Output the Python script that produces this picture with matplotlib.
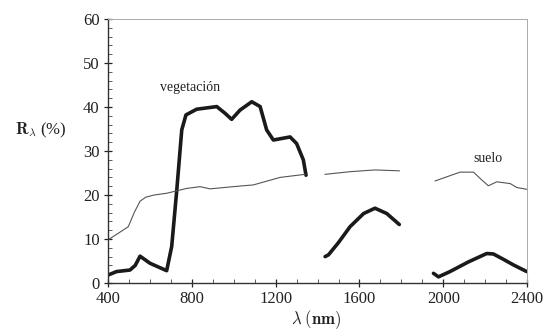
import matplotlib
matplotlib.use("Agg")
import matplotlib.pyplot as plt
from matplotlib.ticker import MultipleLocator

plt.rcParams['font.family'] = ['Liberation Serif', 'DejaVu Serif']
plt.rcParams['mathtext.fontset'] = 'cm'

# vegetation reflectance (three segments, gaps at water absorption bands)
veg_wl_1 = [400, 441, 505, 530, 553, 600, 680, 704, 728, 752, 772, 823, 919, 958, 990,
            1030, 1086, 1126, 1157, 1189, 1269, 1300, 1332, 1345]
veg_r_1 = [1.8, 2.6, 2.95, 4.0, 6.1, 4.5, 2.8, 8.3, 21, 34.8, 38.2, 39.5, 40.1, 38.6, 37.2,
           39.3, 41.2, 40.1, 34.8, 32.5, 33.2, 31.7, 28, 24.5]
veg_wl_2 = [1436, 1452, 1500, 1555, 1620, 1674, 1730, 1790]
veg_r_2 = [6.0, 6.4, 9.2, 12.8, 15.8, 17.0, 15.8, 13.3]
veg_wl_3 = [1953, 1977, 2032, 2120, 2207, 2239, 2290, 2335, 2398]
veg_r_3 = [2.2, 1.4, 2.6, 4.8, 6.7, 6.6, 5.3, 4.1, 2.6]

# soil reflectance
soil_wl_1 = [400, 449, 497, 525, 553, 580, 620, 680, 776, 839, 887, 998, 1094, 1221, 1340]
soil_r_1 = [9.8, 11.3, 12.8, 16.0, 18.6, 19.5, 20.0, 20.4, 21.5, 21.9, 21.4, 21.9, 22.3, 24.0, 24.7]
soil_wl_2 = [1436, 1555, 1674, 1790]
soil_r_2 = [24.7, 25.3, 25.7, 25.5]
soil_wl_3 = [1961, 2080, 2144, 2184, 2215, 2255, 2319, 2351, 2398]
soil_r_3 = [23.2, 25.2, 25.2, 23.4, 22.1, 23.0, 22.6, 21.7, 21.3]

fig = plt.figure(figsize=(5.44, 3.31), dpi=100)
ax = fig.add_axes([0.1985, 0.145, 0.7705, 0.7975])

for wl, r in [(veg_wl_1, veg_r_1), (veg_wl_2, veg_r_2), (veg_wl_3, veg_r_3)]:
    ax.plot(wl, r, color='#1a1a1a', lw=2.6, solid_capstyle='round', solid_joinstyle='round')
for wl, r in [(soil_wl_1, soil_r_1), (soil_wl_2, soil_r_2), (soil_wl_3, soil_r_3)]:
    ax.plot(wl, r, color='#555555', lw=0.8)

ax.set_xlim(400, 2400)
ax.set_ylim(0, 60)
ax.xaxis.set_major_locator(MultipleLocator(400))
ax.xaxis.set_minor_locator(MultipleLocator(100))
ax.yaxis.set_major_locator(MultipleLocator(10))
ax.yaxis.set_minor_locator(MultipleLocator(2))
ax.tick_params(which='major', direction='inout', length=6, width=0.9, labelsize=12,
               colors='#222222', pad=3)
ax.tick_params(which='minor', direction='in', length=3, width=0.6, colors='#444444')

for s in ['left', 'bottom']:
    ax.spines[s].set_color('#333333')
    ax.spines[s].set_linewidth(1.0)
for s in ['top', 'right']:
    ax.spines[s].set_color('#aaaaaa')
    ax.spines[s].set_linewidth(0.7)

ax.text(791, 44.5, 'vegetación', fontsize=10, ha='center', va='center', color='#222222')
ax.text(2214, 28.4, 'suelo', fontsize=10, ha='center', va='center', color='#222222')

fig.text(0.075, 0.605, r'$\mathbf{R}_{\lambda}$ (%)', fontsize=12, ha='center', va='center', color='#222222')
fig.text(0.582, 0.035, r'$\lambda$ $\mathbf{(nm)}$', fontsize=12, ha='center', va='center', color='#222222')

fig.savefig('out.png', dpi=100)
